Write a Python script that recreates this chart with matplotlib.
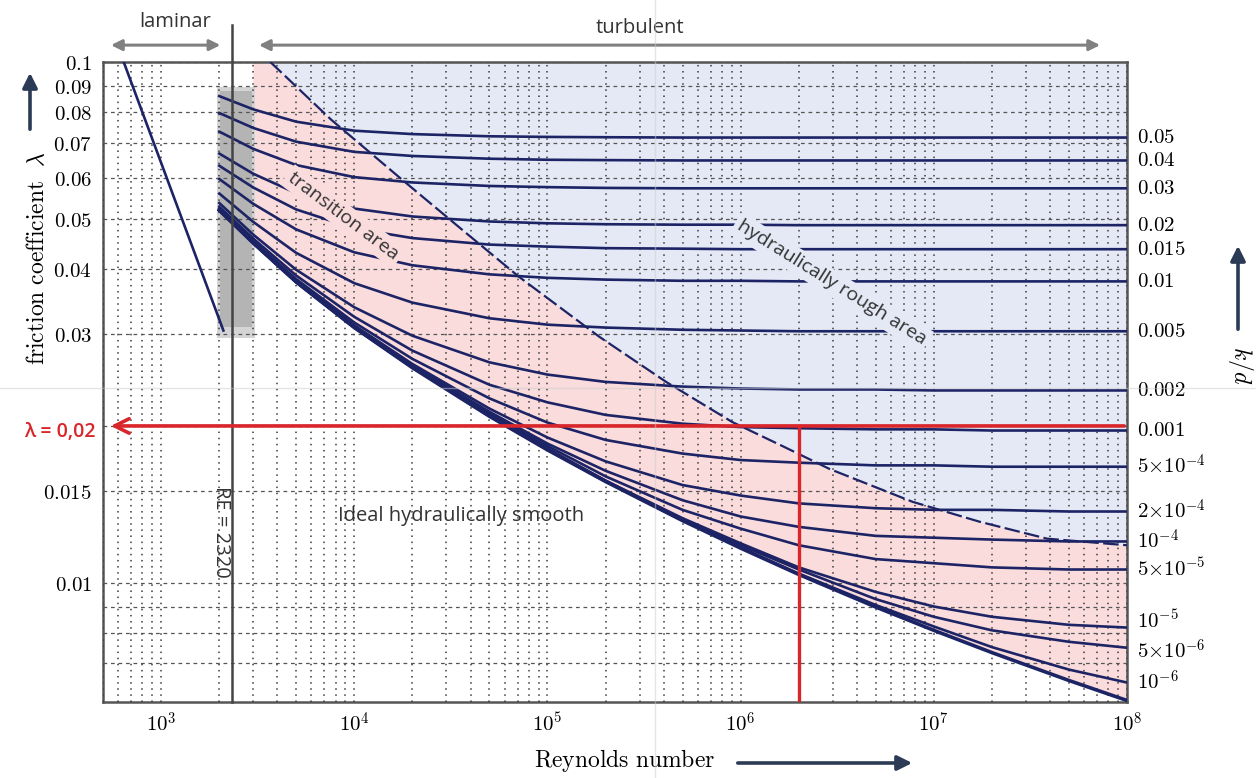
import math
import matplotlib.pyplot as plt
import matplotlib.ticker as mt
from matplotlib.lines import Line2D

plt.rcParams['mathtext.fontset'] = 'cm'
plt.rcParams['font.family'] = ['Open Sans', 'DejaVu Sans']

# Reynolds numbers where the curves were read
re_pts = [2e3, 3e3, 5e3, 1e4, 2e4, 5e4, 1e5, 2e5, 5e5, 1e6, 2e6, 5e6, 1e7, 2e7, 5e7, 1e8]

lam_05 = [.0860, .0811, .0768, .0738, .0727, .0720, .0718, .0717, .0716, .0716, .0716, .0716, .0716, .0716, .0716, .0716]
lam_04 = [.0798, .0747, .0703, .0672, .0660, .0652, .0649, .0648, .0647, .0647, .0647, .0647, .0647, .0647, .0647, .0647]
lam_03 = [.0735, .0681, .0634, .0601, .0587, .0578, .0575, .0573, .0572, .0572, .0572, .0572, .0572, .0572, .0572, .0572]
lam_02 = [.0667, .0610, .0560, .0523, .0505, .0494, .0490, .0488, .0487, .0487, .0486, .0486, .0486, .0486, .0486, .0486]
lam_015 = [.0632, .0574, .0521, .0479, .0459, .0446, .0442, .0439, .0438, .0437, .0437, .0437, .0437, .0437, .0437, .0437]
lam_01 = [.0596, .0534, .0477, .0431, .0407, .0391, .0385, .0382, .0380, .0380, .0379, .0379, .0379, .0379, .0379, .0379]
lam_005 = [.0559, .0493, .0430, .0376, .0345, .0322, .0313, .0309, .0306, .0305, .0304, .0304, .0304, .0304, .0304, .0304]
lam_002 = [.0536, .0466, .0399, .0338, .0298, .0265, .0251, .0243, .0238, .0236, .0235, .0235, .0234, .0234, .0234, .0234]
lam_001 = [.0527, .0458, .0389, .0324, .0279, .0240, .0222, .0210, .0202, .0199, .0198, .0197, .0197, .0196, .0196, .0196]
lam_5e4 = [.0523, .0453, .0383, .0316, .0269, .0226, .0203, .0188, .0177, .0172, .0170, .0168, .0168, .0167, .0167, .0167]
lam_2e4 = [.0520, .0450, .0380, .0312, .0263, .0216, .0190, .0171, .0154, .0147, .0142, .0139, .0138, .0138, .0137, .0137]
lam_1e4 = [.0520, .0449, .0379, .0311, .0261, .0213, .0185, .0164, .0144, .0134, .0128, .0123, .0122, .0121, .0120, .0120]
lam_5e5 = [.0520, .0449, .0379, .0310, .0260, .0211, .0183, .0160, .0138, .0127, .0118, .0111, .0109, .0107, .0106, .0106]
lam_1e5 = [.0519, .0449, .0378, .0309, .0259, .0209, .0181, .0157, .0133, .0119, .0107, .0096, .0090, .0086, .0083, .0082]
lam_5e6 = [.0519, .0449, .0378, .0309, .0259, .0209, .0180, .0157, .0132, .0118, .0106, .0093, .0086, .0081, .0077, .0075]
lam_1e6 = [.0519, .0449, .0378, .0309, .0259, .0209, .0180, .01564, .01318, .01168, .01041, .00906, .00824, .00752, .00681, .00643]
lam_smooth = [.0519, .0449, .0378, .0309, .02587, .02088, .01799, .01564, .01316, .01165, .01037, .00898, .0081, .00734, .00649, .00594]

kd_labels = ['0.05', '0.04', '0.03', '0.02', '0.015', '0.01', '0.005', '0.002', '0.001',
             r'5{\times}10^{-4}', r'2{\times}10^{-4}', '10^{-4}', r'5{\times}10^{-5}',
             '10^{-5}', r'5{\times}10^{-6}', '10^{-6}']
kd_curves = [lam_05, lam_04, lam_03, lam_02, lam_015, lam_01, lam_005, lam_002, lam_001,
             lam_5e4, lam_2e4, lam_1e4, lam_5e5, lam_1e5, lam_5e6, lam_1e6]
# small nudges (points) so the bottom labels do not collide
kd_nudge = [0, 0, 0, 0, 0, 0, 0, 0, 0, 0, 0, 0, 0, 4, -3, 0]

# limit of the hydraulically rough area
rough_re = [3674, 7614, 16960, 37740, 71060, 184700, 411300, 904400, 1.644e6, 2.88e6, 7.76e6, 1.73e7, 3.85e7, 1e8]
rough_lam = [0.1, .0774, .0602, .0470, .0387, .0297, .0243, .02035, .0183, .01654, .0143, .01309, .01215, .0118]

# laminar line
lam_re = [640, 2100]
lam_val = [0.1, 0.0305]

re_crit = 2320
example_re = 2e6
example_lam = 0.02

yticks = [0.01, 0.015, 0.03, 0.04, 0.05, 0.06, 0.07, 0.08, 0.09, 0.1]
ytick_labels = ['0.01', '0.015', '0.03', '0.04', '0.05', '0.06', '0.07', '0.08', '0.09', '0.1']
xticks = [1e3, 1e4, 1e5, 1e6, 1e7, 1e8]

navy = '#1d2466'
red = '#d9262a'
pink = '#fadcdc'
blue = '#e4e9f5'

W, H = 1256, 778
fig = plt.figure(figsize=(W / 100, H / 100), dpi=100)
ax = fig.add_axes([103 / W, 1 - 702 / H, 1024 / W, 640 / H])
ax.set_xscale('log')
ax.set_yscale('log')
ax.set_xlim(500, 1e8)
ax.set_ylim(0.0059, 0.1)

# shaded zones
pink_x = [3000, 3000] + re_pts[2:] + rough_re[::-1]
pink_y = [0.1, lam_smooth[1]] + lam_smooth[2:] + rough_lam[::-1]
ax.fill(pink_x, pink_y, color=pink, lw=0, zorder=0.5)
ax.fill(rough_re + [1e8], rough_lam + [0.1], color=blue, lw=0, zorder=0.5)
ax.fill_between([1950, 3050], 0.0295, 0.0895, color='#d4d4d4', lw=0, zorder=0.6)
ax.fill_between([2020, 2950], 0.031, 0.088, color='#b4b4b4', lw=0, zorder=0.7)

# grid
ax.set_xticks(xticks)
ax.xaxis.set_major_formatter(mt.FuncFormatter(lambda v, p: r'$10^{%d}$' % round(math.log10(v))))
ax.xaxis.set_minor_locator(mt.LogLocator(base=10, subs=range(2, 10)))
ax.xaxis.set_minor_formatter(mt.NullFormatter())
ax.set_yticks(yticks)
ax.set_yticklabels(['$%s$' % t for t in ytick_labels])
ax.set_yticks([0.007, 0.008, 0.009, 0.02], minor=True)
ax.yaxis.set_minor_formatter(mt.NullFormatter())
ax.xaxis.grid(True, which='both', ls=(0, (1, 3)), color='#3a3a3a', lw=1.1, zorder=1)
ax.yaxis.grid(True, which='both', ls=(0, (3, 3)), color='#555555', lw=0.9, zorder=1)
ax.set_axisbelow(False)
ax.tick_params(which='both', length=0, labelsize=15, pad=8)
for s in ax.spines.values():
    s.set_color('#555555')
    s.set_linewidth(1.8)

# curves
for vals in kd_curves:
    ax.plot(re_pts, vals, color=navy, lw=1.9, zorder=3)
ax.plot(re_pts, lam_smooth, color=navy, lw=2.6, zorder=3)
ax.plot(rough_re, rough_lam, color=navy, lw=1.6, ls=(0, (7, 2)), zorder=3)
ax.plot(lam_re, lam_val, color=navy, lw=1.9, zorder=3)
ax.plot([re_crit, re_crit], [0.0059, 0.1177], color='#444444', lw=1.8, zorder=3, clip_on=False)

for lab, vals, dy in zip(kd_labels, kd_curves, kd_nudge):
    ax.annotate('$%s$' % lab, (1e8, vals[-1]), xytext=(7, dy), textcoords='offset points',
                ha='left', va='center', fontsize=15, annotation_clip=False)

# example reading
ax.annotate('', xy=(530, example_lam), xytext=(1e8, example_lam),
            arrowprops=dict(arrowstyle='->', color=red, lw=2.6, mutation_scale=26), zorder=5)
ax.plot([example_re, example_re], [0.0059, example_lam], color=red, lw=2.4, zorder=5)
fig.text(60 / W, 1 - 432 / H, 'λ = 0,02', color=red, fontsize=14, fontweight='semibold',
         ha='center', va='center')

# zone labels
ax.text(8790, 0.0505, 'transition area', rotation=-37, fontsize=14, color='#333333',
        ha='center', va='center', rotation_mode='anchor', zorder=4,
        bbox=dict(facecolor=pink, edgecolor='none', pad=2.5))
ax.text(2.95e6, 0.0377, 'hydraulically rough area', rotation=-32, fontsize=14, color='#333333',
        ha='center', va='center', rotation_mode='anchor', zorder=4,
        bbox=dict(facecolor=blue, edgecolor='none', pad=2.5))
ax.text(35700, 0.01342, 'Ideal hydraulically smooth', fontsize=14.5, color='#333333',
        ha='center', va='center', zorder=4)
ax.text(2030, 0.0125, 'RE = 2320', rotation=270, fontsize=14.5, color='#333333',
        ha='center', va='center', zorder=2.5,
        bbox=dict(facecolor='white', edgecolor='none', pad=0.5))

# flow regime arrows on top
arrow_grey = dict(arrowstyle='<|-|>', color='#808080', lw=2.2, mutation_scale=16)
ax.annotate('', xy=(532, 0.942), xytext=(2094, 0.942), xycoords=('data', 'figure fraction'),
            textcoords=('data', 'figure fraction'), arrowprops=arrow_grey, annotation_clip=False)
ax.annotate('', xy=(3103, 0.942), xytext=(7.5e7, 0.942), xycoords=('data', 'figure fraction'),
            textcoords=('data', 'figure fraction'), arrowprops=arrow_grey, annotation_clip=False)
fig.text(175 / W, 1 - 22 / H, 'laminar', fontsize=14.5, color='#333333', ha='center', va='center')
fig.text(640 / W, 1 - 28 / H, 'turbulent', fontsize=14.5, color='#333333', ha='center', va='center')

# axis titles with arrows
dark_arrow = dict(arrowstyle='-|>', color='#2b3a55', lw=2.6, mutation_scale=22)
fig.text(625 / W, 1 - 760 / H, r'$\mathrm{Reynolds\ number}$', fontsize=17, ha='center', va='center')
ax.annotate('', xy=(915 / W, 1 - 763 / H), xytext=(735 / W, 1 - 763 / H),
            xycoords='figure fraction', arrowprops=dark_arrow, annotation_clip=False)
fig.text(38 / W, 1 - 258 / H, r'$\mathrm{friction\ coefficient}\ \ \lambda$', fontsize=17,
         rotation=90, ha='center', va='center')
ax.annotate('', xy=(30 / W, 1 - 70 / H), xytext=(30 / W, 1 - 132 / H),
            xycoords='figure fraction', arrowprops=dark_arrow, annotation_clip=False)
fig.text(1240 / W, 1 - 365 / H, r'$k/d$', fontsize=17, rotation=270, ha='center', va='center')
ax.annotate('', xy=(1238 / W, 1 - 243 / H), xytext=(1238 / W, 1 - 332 / H),
            xycoords='figure fraction', arrowprops=dark_arrow, annotation_clip=False)

# faint scan lines
fig.add_artist(Line2D([655 / W, 655 / W], [0, 1], color='#cccccc', lw=1, alpha=0.5, zorder=10))
fig.add_artist(Line2D([0, 1], [1 - 388 / H, 1 - 388 / H], color='#cccccc', lw=1, alpha=0.5, zorder=10))

fig.savefig('out.png', dpi=100)
